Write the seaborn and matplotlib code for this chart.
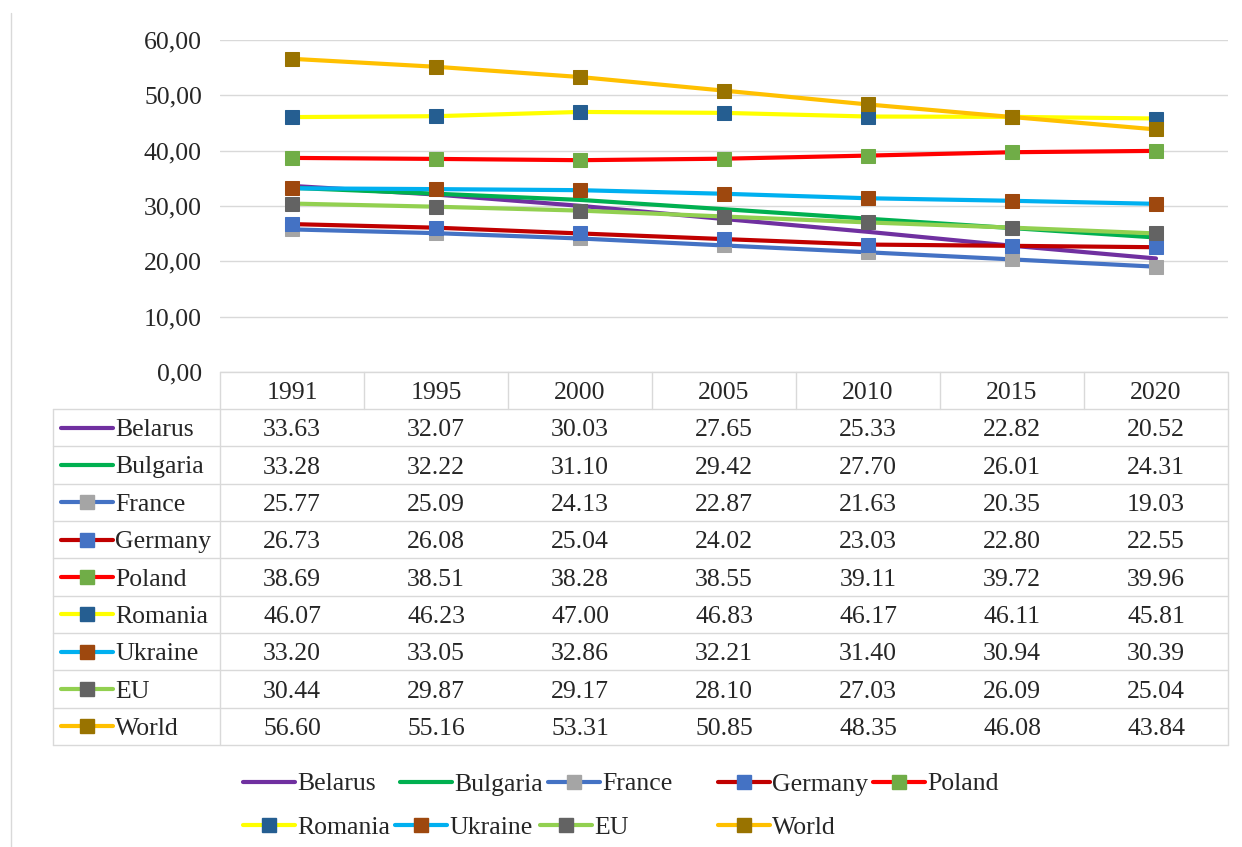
import matplotlib
matplotlib.use("Agg")
import matplotlib.pyplot as plt
import seaborn as sns
import pandas as pd
from matplotlib.ticker import FuncFormatter

years = ["1991", "1995", "2000", "2005", "2010", "2015", "2020"]
countries = ["Belarus", "Bulgaria", "France", "Germany", "Poland",
             "Romania", "Ukraine", "EU", "World"]
belarus = [33.63, 32.07, 30.03, 27.65, 25.33, 22.82, 20.52]
bulgaria = [33.28, 32.22, 31.10, 29.42, 27.70, 26.01, 24.31]
france = [25.77, 25.09, 24.13, 22.87, 21.63, 20.35, 19.03]
germany = [26.73, 26.08, 25.04, 24.02, 23.03, 22.80, 22.55]
poland = [38.69, 38.51, 38.28, 38.55, 39.11, 39.72, 39.96]
romania = [46.07, 46.23, 47.00, 46.83, 46.17, 46.11, 45.81]
ukraine = [33.20, 33.05, 32.86, 32.21, 31.40, 30.94, 30.39]
eu = [30.44, 29.87, 29.17, 28.10, 27.03, 26.09, 25.04]
world = [56.60, 55.16, 53.31, 50.85, 48.35, 46.08, 43.84]
values = [belarus, bulgaria, france, germany, poland, romania, ukraine, eu, world]

line_colors = ["#7030A0", "#00B050", "#4472C4", "#C00000", "#FF0000",
               "#FFFF00", "#00B0F0", "#92D050", "#FFC000"]
marker_colors = [None, None, "#A5A5A5", "#4472C4", "#70AD47",
                 "#255E91", "#9E480E", "#636363", "#997300"]

rows = []
for c, vals in zip(countries, values):
    for i, v in enumerate(vals):
        rows.append({"country": c, "idx": i, "year": years[i], "value": v})
df = pd.DataFrame(rows)

sns.set_theme(style="white")
plt.rcParams["font.family"] = ["Liberation Serif", "DejaVu Serif"]

W, H = 1242, 847
fs = 18.5
tc = "#262626"
fig = plt.figure(figsize=(W / 100, H / 100), dpi=100)

# overlay axes in pixel coords for table, legend, frame
ov = fig.add_axes([0, 0, 1, 1])
ov.set_xlim(0, W)
ov.set_ylim(H, 0)
ov.axis("off")

x0, x1 = 220, 1228
y_top, y_zero = 40, 372
ax = fig.add_axes([x0 / W, (H - y_zero) / H, (x1 - x0) / W, (y_zero - y_top) / H])
ax.patch.set_alpha(0)

lw = 3.0
ms = 9.5
for c, lc, mc in zip(countries, line_colors, marker_colors):
    sub = df[df["country"] == c]
    if mc is None:
        sns.lineplot(data=sub, x="idx", y="value", ax=ax, color=lc, lw=lw,
                     legend=False, zorder=3)
    else:
        sns.lineplot(data=sub, x="idx", y="value", ax=ax, color=lc, lw=lw,
                     marker="s", markersize=ms, markerfacecolor=mc,
                     markeredgecolor=mc, legend=False, zorder=3)

ax.set_xlim(-0.5, len(years) - 0.5)
ax.set_ylim(0, 60)
ax.set_yticks(range(0, 61, 10))
ax.yaxis.set_major_formatter(FuncFormatter(lambda v, p: f"{v:.2f}".replace(".", ",")))
ax.tick_params(axis="y", labelsize=fs, colors=tc, pad=13, length=0)
ax.set_xticks([])
ax.set_xlabel("")
ax.set_ylabel("")
ax.grid(axis="y", color="#D9D9D9", lw=1)
for s in ax.spines.values():
    s.set_visible(False)

# data table
gc = "#D9D9D9"
tleft = 53
hdr_bot = 409
tbot = 745
ncol = len(years)
cw = (x1 - x0) / ncol
rh = (tbot - hdr_bot) / len(countries)

ov.plot([x0, x1], [y_zero, y_zero], color=gc, lw=1)
for k in range(ncol + 1):
    xx = x0 + k * cw
    ov.plot([xx, xx], [y_zero, hdr_bot], color=gc, lw=1)
ov.plot([tleft, tleft], [hdr_bot, tbot], color=gc, lw=1)
ov.plot([x0, x0], [hdr_bot, tbot], color=gc, lw=1)
ov.plot([x1, x1], [hdr_bot, tbot], color=gc, lw=1)
for r in range(len(countries) + 1):
    yy = hdr_bot + r * rh
    ov.plot([tleft, x1], [yy, yy], color=gc, lw=1)

for k, yr in enumerate(years):
    ov.text(x0 + (k + 0.5) * cw, (y_zero + hdr_bot) / 2, yr, ha="center",
            va="center_baseline", fontsize=fs, color=tc)

for r, (c, vals, lc, mc) in enumerate(zip(countries, values, line_colors, marker_colors)):
    yc = hdr_bot + (r + 0.5) * rh
    ov.plot([61, 113], [yc, yc], color=lc, lw=lw, solid_capstyle="round")
    if mc is not None:
        ov.plot([87], [yc], marker="s", markersize=ms, color=mc, lw=0)
    ov.text(115, yc, c, ha="left", va="center_baseline", fontsize=fs, color=tc)
    for k, v in enumerate(vals):
        ov.text(x0 + (k + 0.5) * cw, yc, f"{v:.2f}", ha="center",
                va="center_baseline", fontsize=fs, color=tc)

# bottom legend
leg_pos = [(243, 782), (400, 782), (548, 782), (718, 782), (873, 782),
           (243, 825), (395, 825), (540, 825), (718, 825)]
for (lx, ly), c, lc, mc in zip(leg_pos, countries, line_colors, marker_colors):
    ov.plot([lx, lx + 52], [ly, ly], color=lc, lw=lw, solid_capstyle="round")
    if mc is not None:
        ov.plot([lx + 26], [ly], marker="s", markersize=ms, color=mc, lw=0)
    ov.text(lx + 54, ly, c, ha="left", va="center_baseline", fontsize=fs, color=tc)

# outer frame edge on the left
ov.plot([11, 11], [13, H], color="#D9D9D9", lw=1)

fig.savefig("out.png", dpi=100)
